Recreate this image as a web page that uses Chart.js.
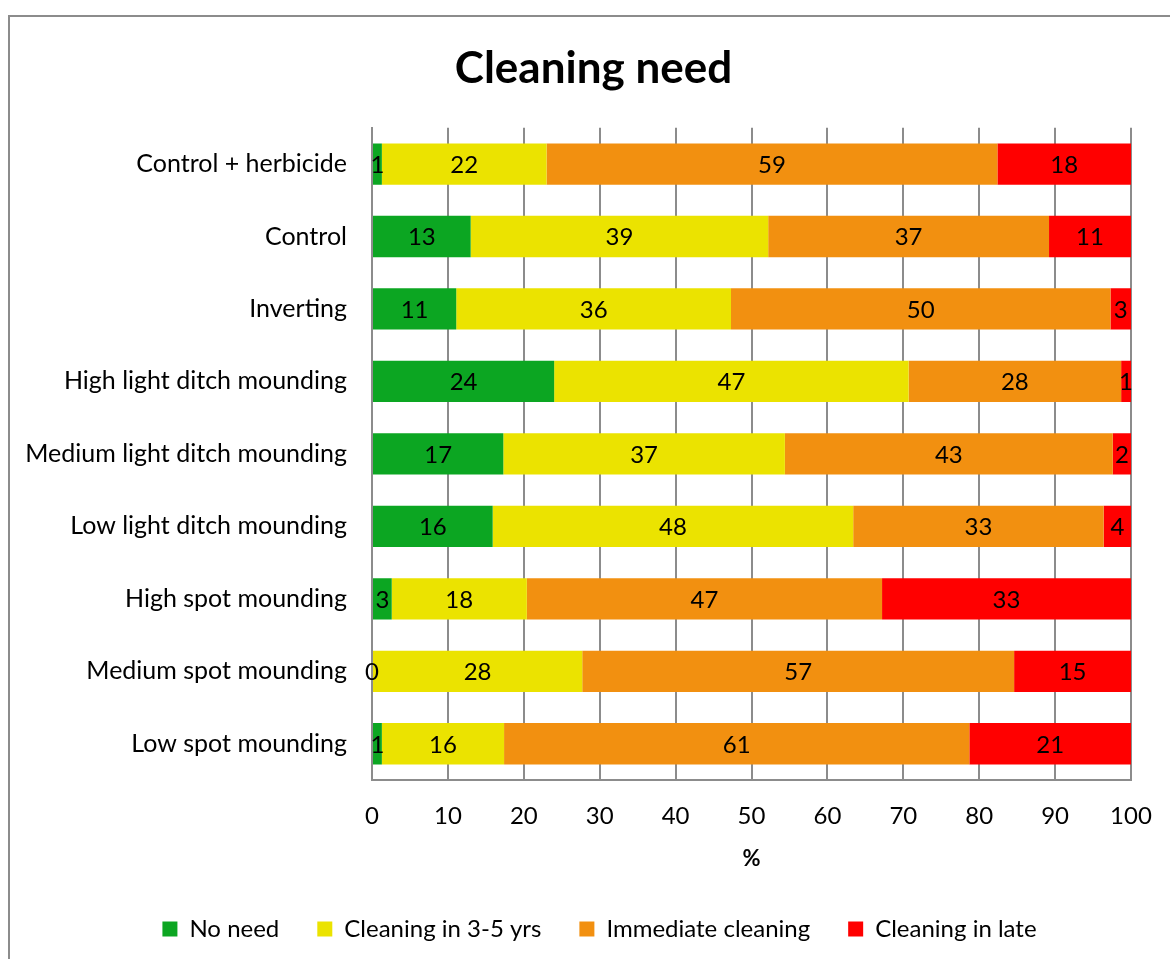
<!DOCTYPE html>
<html>
<head>
<meta charset="utf-8">
<script src="https://cdn.jsdelivr.net/npm/chart.js@4"></script>
<style>
    body { margin: 0; background: #fff; overflow: hidden; }
    #wrap { position: relative; width: 1170px; height: 959px; }
    #frame { position: absolute; left: 8px; top: 15px; width: 1180px; height: 960px; border: 2px solid #8c8c8c; }
    #chart { position: absolute; left: 0; top: 0; }
</style>
</head>
<body>
<div id="wrap">
    <div id="frame"></div>
    <canvas id="chart" width="1170" height="959"></canvas>
</div>
<script>
const categories = [
    'Control + herbicide',
    'Control',
    'Inverting',
    'High light ditch mounding',
    'Medium light ditch mounding',
    'Low light ditch mounding',
    'High spot mounding',
    'Medium spot mounding',
    'Low spot mounding'
];
const seriesNames = ['No need', 'Cleaning in 3-5 yrs', 'Immediate cleaning', 'Cleaning in late'];
const noNeed    = [1.3, 13.0, 11.1, 24.0, 17.3, 15.9, 2.6, 0, 1.3];
const clean35   = [21.7, 39.2, 36.2, 46.7, 37.1, 47.5, 17.8, 27.7, 16.1];
const immediate = [59.4, 37.0, 50.0, 28.0, 43.2, 33.0, 46.8, 56.9, 61.3];
const late      = [17.6, 10.8, 2.7, 1.3, 2.4, 3.6, 32.8, 15.4, 21.3];
const xTicks    = [0, 10, 20, 30, 40, 50, 60, 70, 80, 90, 100];

const colors = ['#0ca622', '#ebe300', '#f29010', '#ff0000'];
const FONT = 'Lato, "Open Sans", sans-serif';

// value labels in the middle of each segment
const segmentLabels = {
    id: 'segmentLabels',
    afterDatasetsDraw(chart) {
        const ctx = chart.ctx;
        ctx.save();
        ctx.font = '24px ' + FONT;
        ctx.fillStyle = '#000';
        ctx.textAlign = 'center';
        ctx.textBaseline = 'middle';
        chart.data.datasets.forEach((ds, i) => {
            chart.getDatasetMeta(i).data.forEach((bar, j) => {
                const cx = (bar.x + bar.base) / 2;
                ctx.fillText(String(Math.round(ds.data[j])), cx, bar.y + 1);
            });
        });
        ctx.restore();
    }
};

// title and legend are centred on the outer frame, not on the label column
const centreBlocks = {
    id: 'centreBlocks',
    afterLayout(chart) {
        chart.titleBlock.left = 56;
        chart.legend.left = 68;
    }
};

new Chart(document.getElementById('chart'), {
    type: 'bar',
    data: {
        labels: categories,
        datasets: [noNeed, clean35, immediate, late].map((d, i) => ({
            label: seriesNames[i],
            data: d,
            backgroundColor: colors[i],
            borderWidth: 0,
            barPercentage: 1,
            categoryPercentage: 0.57
        }))
    },
    options: {
        indexAxis: 'y',
        responsive: false,
        animation: false,
        layout: { padding: { left: 0, right: 39, top: 0, bottom: 8 } },
        plugins: {
            title: {
                display: true,
                text: 'Cleaning need',
                color: '#000',
                font: { family: FONT, size: 44, weight: 'bold' },
                padding: { top: 42, bottom: 33 }
            },
            legend: {
                position: 'bottom',
                labels: {
                    color: '#000',
                    font: { family: FONT, size: 24 },
                    boxWidth: 15,
                    boxHeight: 15,
                    padding: 38
                }
            },
            tooltip: { enabled: false }
        },
        scales: {
            x: {
                stacked: true,
                min: 0,
                max: 100,
                afterBuildTicks: scale => { scale.ticks = xTicks.map(v => ({ value: v })); },
                afterFit: scale => {
                    scale.height = 99;
                    scale.paddingRight = 0;
                },
                grid: { color: '#8c8c8c', lineWidth: 2, drawTicks: false },
                border: { color: '#8c8c8c', width: 2 },
                ticks: { color: '#000', font: { family: FONT, size: 24 }, padding: 22 },
                title: {
                    display: true,
                    text: '%',
                    color: '#000',
                    font: { family: FONT, size: 22, weight: 'bold' },
                    padding: { top: 0, bottom: 7 }
                }
            },
            y: {
                stacked: true,
                afterFit: scale => { scale.width = 372; },
                grid: { display: false, drawTicks: false },
                border: { color: '#8c8c8c', width: 2 },
                ticks: { color: '#000', font: { family: FONT, size: 25 }, padding: 25 }
            }
        }
    },
    plugins: [segmentLabels, centreBlocks]
});
</script>
</body>
</html>
